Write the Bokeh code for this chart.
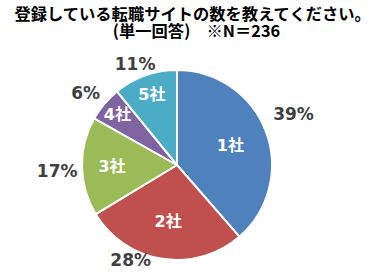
import math
from bokeh.plotting import figure
from bokeh.models import Range1d, ColumnDataSource
from bokeh.core.properties import value
from bokeh.embed import file_html
from bokeh.resources import INLINE

# ---- data ----
categories = ["1社", "2社", "3社", "4社", "5社"]
percents = [39, 28, 17, 6, 11]
colors = ["#4F81BD", "#C0504D", "#9BBB59", "#8064A2", "#4BACC6"]
title_lines = ["登録している転職サイトの数を教えてください。", "(単一回答)　※N＝236"]

# ---- layout ----
W, H = 384, 280
CX, CY, R = 176.5, 280 - 164.5, 95
inner_dist = [57, 57, 65, 78, 75]
outer_dist = [127, 106, 120, 116, 109]
outer_nudge = [-3, 17, -2, -2, -3]  # degrees, label placement adjustment
FONT = value("'DejaVu Sans', 'Noto Sans CJK JP', sans-serif")
TFONT = value("'Noto Sans CJK JP', sans-serif")

total = float(sum(percents))
starts, ends, mids = [], [], []
cum = 0.0
for v in percents:
    a0 = cum / total * 360.0
    cum += v
    a1 = cum / total * 360.0
    starts.append(math.pi / 2 - math.radians(a0))
    ends.append(math.pi / 2 - math.radians(a1))
    mids.append((a0 + a1) / 2.0)

def polar(deg, d):
    t = math.radians(deg)
    return CX + d * math.sin(t), CY + d * math.cos(t)

p = figure(width=W, height=H, x_range=Range1d(0, W), y_range=Range1d(0, H),
           output_backend="svg", toolbar_location=None, min_border=0,
           background_fill_color="white", border_fill_color="white")
p.axis.visible = False
p.grid.visible = False
p.outline_line_color = None

src = ColumnDataSource(dict(start=starts, end=ends, color=colors, cat=categories))
p.wedge(x=CX, y=CY, radius=R, start_angle="start", end_angle="end",
        direction="clock", fill_color="color", line_color="white", line_width=2,
        source=src)

ix, iy = zip(*[polar(m, d) for m, d in zip(mids, inner_dist)])
p.text(x=list(ix), y=list(iy), text=categories, text_align="center",
       text_baseline="middle", text_font=FONT, text_font_style="bold",
       text_font_size="16px", text_color="white")

ox, oy = zip(*[polar(m + n, d) for m, n, d in zip(mids, outer_nudge, outer_dist)])
p.text(x=list(ox), y=list(oy), text=[f"{v}%" for v in percents], text_align="center",
       text_baseline="middle", text_font=FONT, text_font_style="bold",
       text_font_size="17px", text_color="#404040")

p.text(x=[193, 196], y=[H - 12, H - 29], text=title_lines, text_align="center",
       text_baseline="middle", text_font=TFONT, text_font_style="bold",
       text_font_size="16.3px", text_color="#000000")

open("out.html", "w").write(file_html(p, INLINE))
